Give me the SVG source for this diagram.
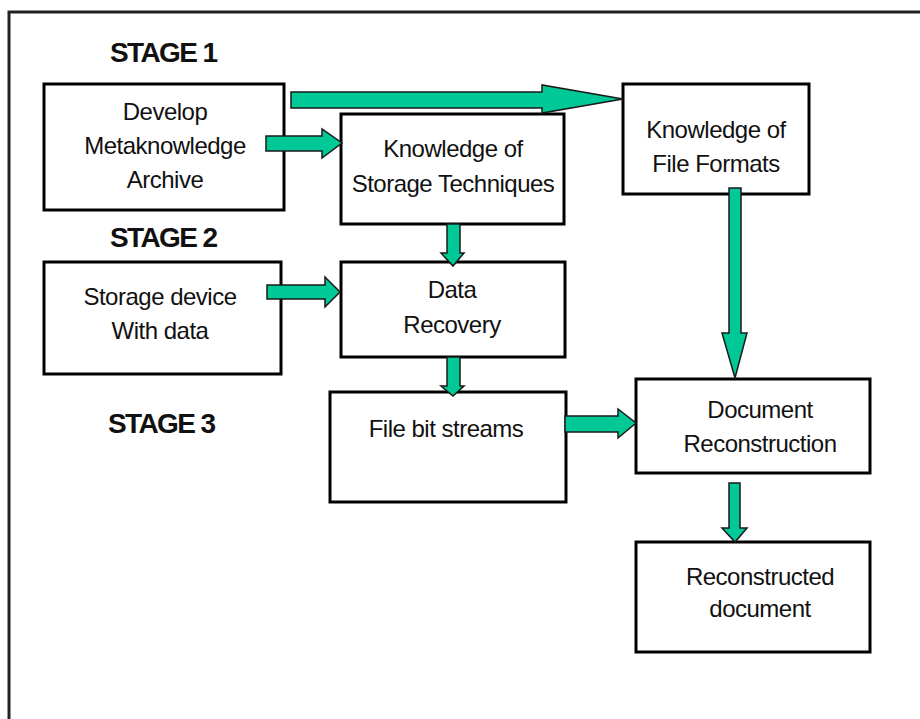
<svg xmlns="http://www.w3.org/2000/svg" width="920" height="719" viewBox="0 0 920 719">
<style>
.box{fill:#fff;stroke:#000;stroke-width:3}
.t{font-family:"Liberation Sans",Arial,sans-serif;font-size:24px;fill:#111;text-anchor:middle;letter-spacing:-0.5px}
.st{font-family:"Liberation Sans",Arial,sans-serif;font-size:28px;font-weight:bold;fill:#111;letter-spacing:-1.6px}
.arr{fill:#00c896;stroke:#1a1a1a;stroke-width:1.5;stroke-linejoin:miter}
</style>
<rect width="920" height="719" fill="#fff"/>
<path d="M9,719 V12 H920" fill="none" stroke="#222" stroke-width="3"/>
<text class="st" x="110" y="62">STAGE 1</text>
<text class="st" x="110" y="247">STAGE 2</text>
<text class="st" x="108" y="433">STAGE 3</text>
<g id="n1"><rect class="box" x="44" y="84" width="240" height="126"/>
<text class="t" x="165" y="120">Develop</text><text class="t" x="165" y="154">Metaknowledge</text><text class="t" x="165" y="188">Archive</text></g>
<g id="n2"><rect class="box" x="341" y="114" width="223" height="110"/>
<text class="t" x="453" y="157">Knowledge of</text><text class="t" x="453" y="192">Storage Techniques</text></g>
<g id="n3"><rect class="box" x="623" y="84" width="186" height="110"/>
<text class="t" x="716" y="138">Knowledge of</text><text class="t" x="716" y="172">File Formats</text></g>
<g id="n4"><rect class="box" x="44" y="262" width="237" height="112"/>
<text class="t" x="160" y="305">Storage device</text><text class="t" x="160" y="339">With data</text></g>
<g id="n5"><rect class="box" x="341" y="262" width="224" height="95"/>
<text class="t" x="452" y="298">Data</text><text class="t" x="452" y="333">Recovery</text></g>
<g id="n6"><rect class="box" x="330" y="392" width="236" height="110"/>
<text class="t" x="446" y="437">File bit streams</text></g>
<g id="n7"><rect class="box" x="636" y="379" width="234" height="94"/>
<text class="t" x="760" y="418">Document</text><text class="t" x="760" y="452">Reconstruction</text></g>
<g id="n8"><rect class="box" x="636" y="542" width="234" height="110" stroke-width="4"/>
<text class="t" x="760" y="585">Reconstructed</text><text class="t" x="760" y="617">document</text></g>
<g id="connectors">
<polygon class="arr" points="291,92 542,92 542,85 623,99 542,113 542,108 291,108"/>
<polygon class="arr" points="266,136 322,136 322,129 342,143 322,158 322,151 266,151"/>
<polygon class="arr" points="447,224 460,224 460,253 464,253 453,266 441,253 447,253"/>
<polygon class="arr" points="267,285 325,285 325,277 340,292 325,307 325,299 267,299"/>
<polygon class="arr" points="447,357 460,357 460,386 464,386 453,396 441,386 447,386"/>
<polygon class="arr" points="729,188 741,188 741,333 747,333 735,378 722,333 729,333"/>
<polygon class="arr" points="565,416 618,416 618,409 636,423 618,438 618,432 565,432"/>
<polygon class="arr" points="729,483 740,483 740,528 747,528 735,542 722,528 729,528"/>
</g>
</svg>
